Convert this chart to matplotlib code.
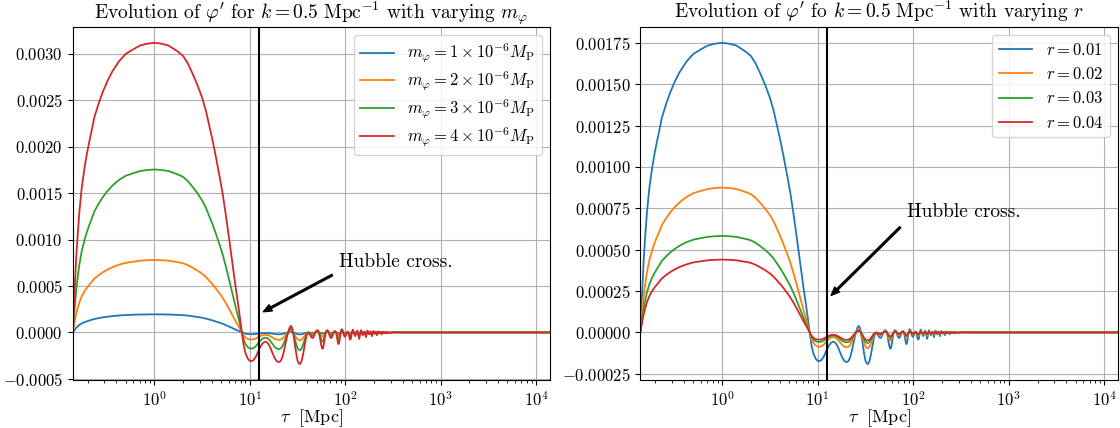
import numpy as np
import matplotlib
matplotlib.use("Agg")
import matplotlib.pyplot as plt
from matplotlib.ticker import MultipleLocator

plt.rcParams['font.family'] = ['cmr10', 'DejaVu Serif']
plt.rcParams['mathtext.fontset'] = 'cm'
plt.rcParams['axes.formatter.use_mathtext'] = True

# phi' of the m = 4e-6 M_P, k = 0.5 run
# arch before horizon crossing: (log10 tau, phi')
arch = [(-0.855, 0), (-0.848, 0.00017), (-0.84, 0.00034), (-0.83, 0.00056),
        (-0.818, 0.00081), (-0.81, 0.00094), (-0.80, 0.00109), (-0.792, 0.0012),
        (-0.784, 0.00131), (-0.772, 0.00144), (-0.76, 0.00156), (-0.745, 0.00167),
        (-0.73, 0.00178), (-0.705, 0.00193), (-0.68, 0.00206), (-0.655, 0.00218),
        (-0.63, 0.00231), (-0.585, 0.00246), (-0.54, 0.00259), (-0.49, 0.00271),
        (-0.44, 0.00281), (-0.37, 0.00292), (-0.30, 0.003), (-0.22, 0.00305),
        (-0.15, 0.00309), (-0.075, 0.00311), (0.0, 0.00312), (0.075, 0.00311),
        (0.15, 0.00309), (0.225, 0.00304), (0.265, 0.00301), (0.30, 0.00298),
        (0.35, 0.0029), (0.40, 0.00279), (0.45, 0.00267), (0.50, 0.00253),
        (0.54, 0.00239), (0.575, 0.00223), (0.61, 0.00207), (0.645, 0.00189),
        (0.68, 0.0017), (0.715, 0.0015), (0.75, 0.00126), (0.785, 0.001),
        (0.82, 0.00073), (0.85, 0.0005), (0.885, 0.00025), (0.917, 0)]

# oscillations after crossing: (tau, phi')
osc = [(8.6, -0.00013), (9.0, -0.00022), (9.5, -0.00028), (10.0, -0.000305),
       (10.5, -0.00031), (11.0, -0.000295), (11.6, -0.00026), (12.3, -0.0002),
       (13.0, -0.00015), (13.7, -0.000115), (14.4, -0.0001), (15.1, -0.000105),
       (15.8, -0.00013), (16.5, -0.00017), (17.3, -0.00022), (18.1, -0.00027),
       (19.0, -0.000305), (20.0, -0.00032), (21.0, -0.00031), (21.9, -0.00027),
       (22.8, -0.0002), (23.7, -0.00012), (24.6, -0.00004), (25.5, 0.00002),
       (26.3, 0.00006), (27.0, 0.00007), (27.7, 0.00005), (28.4, 0.0),
       (29.1, -0.00007), (29.9, -0.00015), (30.8, -0.00024), (31.8, -0.00031),
       (32.8, -0.000335), (33.8, -0.00034), (34.8, -0.00031), (35.8, -0.00026),
       (36.8, -0.00019), (37.8, -0.00012), (38.8, -0.00006), (39.8, -0.00002),
       (41.0, -0.000005), (42.2, -0.000015), (43.4, -0.00004), (44.6, -0.000055),
       (45.8, -0.00006), (47.0, -0.00004), (48.3, -0.00001), (49.6, 0.000015),
       (50.9, 0.000025), (52.2, 0.00002), (53.5, -0.00002), (54.8, -0.00008),
       (56.1, -0.00014), (57.4, -0.000175), (58.6, -0.00017), (59.8, -0.00012),
       (61.0, -0.00006), (62.3, -0.00001), (63.6, 0.00002), (64.9, 0.000025),
       (66.2, 0.000015), (67.5, -0.00001), (68.8, -0.00004), (70.1, -0.000055),
       (71.4, -0.00006), (72.7, -0.00005), (74.0, -0.00003), (75.5, 0.0),
       (77.0, 0.000012), (78.5, 0.000015), (80.0, 0.0), (81.5, -0.00004),
       (83.0, -0.00009), (84.5, -0.000125), (85.9, -0.00012), (87.3, -0.00008),
       (88.7, -0.00003), (90.2, 0.00001), (91.7, 0.000035), (93.2, 0.00003),
       (94.7, 0.00001), (96.2, -0.00002), (97.7, -0.00004), (99.2, -0.000048),
       (100.7, -0.00004), (102.2, -0.000025), (103.7, -0.000005), (105.2, 0.000007),
       (106.7, 0.000008), (108.2, -0.00001), (109.7, -0.00004), (111.2, -0.000065),
       (112.7, -0.000078), (114.2, -0.00007), (115.7, -0.00004), (117.2, -0.00001),
       (118.7, 0.00002), (120.2, 0.00003), (121.7, 0.000015), (124.0, -0.00001),
       (127, -0.00004), (133.5, 0.00002), (140, -0.00007), (146, 0.000025),
       (152.5, -0.00003), (159, 0.00001), (165, -0.00005), (171, 0.00002),
       (178, -0.00002), (184, 0.00001), (190, -0.00004), (197, 0.000015),
       (203, -0.000015), (209, 0.000008), (215, -0.00003), (222, 0.00001),
       (228, -0.00001), (234, 0.000005), (240, -0.00002), (247, 0.000008),
       (253, -0.000008), (259, 0.000004), (266, -0.000012), (272, 0.000005),
       (278, -0.000005), (290, -0.000006), (320, 0.000002), (400, 0),
       (1000, 0), (14000, 0)]

# the other runs are rescaled copies; peak heights
m_vals = [1, 2, 3, 4]
m_peaks = [0.000195, 0.00078, 0.001755, 0.00312]
r_vals = [0.01, 0.02, 0.03, 0.04]
r_peaks = [0.00175, 0.000875, 0.000583, 0.00044]

tau_cross = 12.6

tau = np.concatenate([10 ** np.array([a[0] for a in arch]), [o[0] for o in osc]])
phi_ref = np.array([a[1] for a in arch] + [o[1] for o in osc])

fig = plt.figure(figsize=(11.2, 4.28), dpi=100)
ax1 = fig.add_axes([0.0649, 0.112, 0.4263, 0.8256])
ax2 = fig.add_axes([0.5717, 0.112, 0.4268, 0.8256])

for m, pk in zip(m_vals, m_peaks):
    ax1.plot(tau, phi_ref * pk / phi_ref.max(), lw=1.3,
             label=rf'$m_\varphi = {m} \times 10^{{-6}} M_\mathrm{{P}}$')
for r, pk in zip(r_vals, r_peaks):
    ax2.plot(tau, phi_ref * pk / phi_ref.max(), lw=1.3, label=rf'$r = {r}$')

ax1.set_title(r"Evolution of $\varphi'$ for $k = 0.5\ \mathrm{Mpc}^{-1}$ with varying $m_\varphi$", fontsize=14)
ax2.set_title(r"Evolution of $\varphi'$ fo $k = 0.5\ \mathrm{Mpc}^{-1}$ with varying $r$", fontsize=14)
ax1.yaxis.set_major_locator(MultipleLocator(0.0005))
ax2.yaxis.set_major_locator(MultipleLocator(0.00025))

for ax in (ax1, ax2):
    ax.set_xscale('log')
    ax.set_xlim(tau[0], tau[-1])
    ax.axvline(tau_cross, color='black', lw=1.5)
    ax.annotate('Hubble cross.', xy=(tau_cross, 0.0002), xytext=(86, 0.0007),
                fontsize=14,
                arrowprops=dict(facecolor='black', shrink=0.05, width=1.2,
                                headwidth=5, headlength=6))
    ax.set_xlabel(r'$\tau\ \ [\mathrm{Mpc}]$', fontsize=13, labelpad=-1)
    ax.tick_params(labelsize=12)
    ax.grid(True)

ax1.legend(fontsize=12, loc='upper right', labelspacing=0.26)
ax2.legend(fontsize=12, loc='upper right')

fig.savefig('out.png', dpi=100)
